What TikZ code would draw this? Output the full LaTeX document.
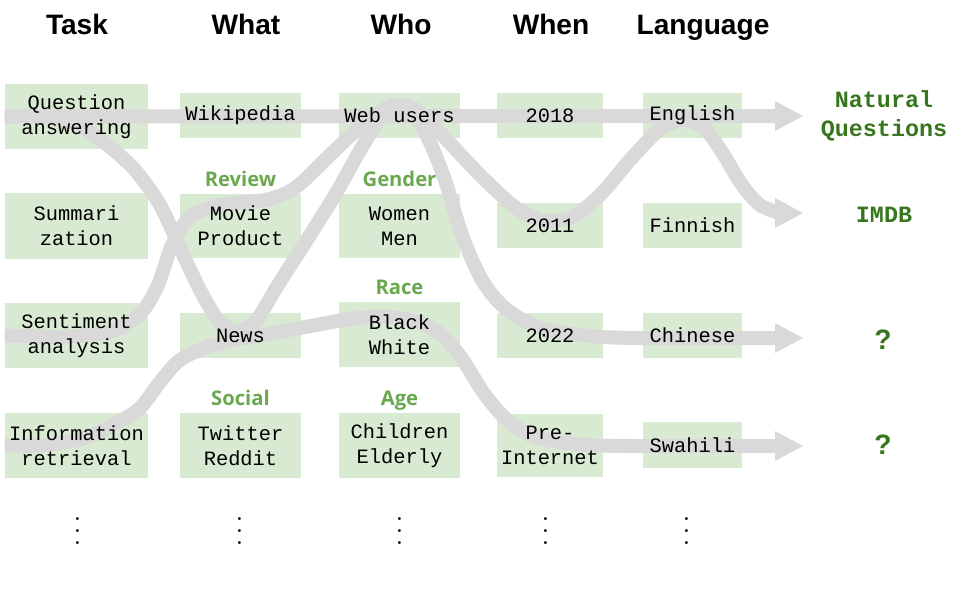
\documentclass[tikz,border=0pt]{standalone}
\usepackage{fontspec}
\setmonofont{Liberation Mono}
\newfontfamily\headfont{Liberation Sans}
\newfontfamily\catfont{Open Sans}
\usepackage{tikz}
\usetikzlibrary{arrows.meta}

\definecolor{boxgreen}{HTML}{D9EAD3}
\definecolor{flowgray}{HTML}{D9D9D9}
\definecolor{catgreen}{HTML}{6AA84F}
\definecolor{dsgreen}{HTML}{38761D}

\pgfdeclarelayer{fills}
\pgfdeclarelayer{flows}
\pgfsetlayers{fills,flows,main}

\newcommand{\colvdots}{\vbox{\baselineskip=6.8pt\lineskiplimit=0pt\hbox{.}\hbox{.}\hbox{.}}}

\tikzset{
  cell/.style={inner sep=0pt, align=center, font=\ttfamily\fontsize{11.6}{14.2}\selectfont},
  taskcell/.style={cell, minimum width=2.86cm, minimum height=1.30cm},
  midcell/.style={cell, minimum width=2.42cm, minimum height=0.90cm},
  tallcell/.style={cell, minimum width=2.42cm, minimum height=1.28cm},
  whencell/.style={cell, minimum width=2.12cm, minimum height=0.90cm},
  langcell/.style={cell, minimum width=1.98cm, minimum height=0.90cm},
  header/.style={anchor=base, font=\headfont\bfseries\fontsize{16}{18}\selectfont},
  category/.style={anchor=base, text=catgreen, font=\catfont\bfseries\fontsize{11.5}{13}\selectfont},
  dataset/.style={align=center, text=dsgreen, font=\ttfamily\bfseries\fontsize{13.3}{16.4}\selectfont},
  unknown/.style={text=dsgreen, font=\headfont\bfseries\fontsize{16}{18}\selectfont},
  flow/.style={draw=flowgray, line width=0.28cm, line join=round},
  flowarrow/.style={flow, -{Triangle[length=0.56cm, width=0.6cm, line width=0pt]}}
}

\begin{document}
\begin{tikzpicture}[x=0.02cm, y=-0.02cm]
  \useasboundingbox (0,0) rectangle (954,596);

  % headers
  \node[header] (hTask) at (77,34) {Task};
  \node[header] (hWhat) at (246,34) {What};
  \node[header] (hWho) at (401,34) {Who};
  \node[header] (hWhen) at (551,34) {When};
  \node[header] (hLang) at (703,34) {Language};

  % task column
  \node[taskcell] (qa) at (76.5,116.5) {Question\\answering};
  \node[taskcell] (su) at (76.5,226) {Summari\\zation};
  \node[taskcell] (sa) at (76.5,335.5) {Sentiment\\analysis};
  \node[taskcell] (ir) at (76.5,445.5) {Information\\retrieval};

  % what column
  \node[midcell] (wiki) at (240.5,115.5) {Wikipedia};
  \node[tallcell] (mov) at (240.5,226) {Movie\\Product};
  \node[midcell] (news) at (240.5,335.5) {News};
  \node[tallcell] (soc) at (240.5,445.5) {Twitter\\Reddit};

  % who column
  \node[midcell] (web) at (399.5,115.5) {Web users};
  \node[tallcell] (gen) at (399.5,226) {Women\\Men};
  \node[tallcell] (race) at (399.5,334.5) {Black\\White};
  \node[tallcell] (age) at (399.5,445.5) {Children\\Elderly};

  % when column
  \node[whencell] (y18) at (550,115.5) {2018};
  \node[whencell] (y11) at (550,225.5) {2011};
  \node[whencell] (y22) at (550,335.5) {2022};
  \node[whencell, minimum height=1.26cm] (pre) at (550,445.5) {Pre-\\Internet};

  % language column
  \node[langcell] (en) at (692.5,115.5) {English};
  \node[langcell] (fi) at (692.5,225.5) {Finnish};
  \node[langcell] (zh) at (692.5,335.5) {Chinese};
  \node[langcell] (sw) at (692.5,445) {Swahili};

  % category labels
  \node[category] (cReview) at (240.5,186) {Review};
  \node[category] (cGender) at (399.5,186) {Gender};
  \node[category] (cRace) at (399.5,294) {Race};
  \node[category] (cSocial) at (240.5,405) {Social};
  \node[category] (cAge) at (399.5,405) {Age};

  % resulting datasets
  \node[dataset] (nq) at (884,116) {Natural\\Questions};
  \node[dataset] (imdb) at (884,214.5) {IMDB};
  \node[unknown] (q1) at (883,340) {?};
  \node[unknown] (q2) at (883,445) {?};

  \coordinate (tipNQ) at (803,116);
  \coordinate (tipIMDB) at (803,213);
  \coordinate (tipZH) at (803,338);
  \coordinate (tipSW) at (803,446);

  \foreach \x/\n in {78/dTask,240/dWhat,400/dWho,546/dWhen,687/dLang}
    \node[font=\fontsize{20}{20}\selectfont] (\n) at (\x,531) {\colvdots};

  \begin{pgfonlayer}{fills}
    \foreach \n in {qa,su,sa,ir,wiki,mov,news,soc,web,gen,race,age,y18,y11,y22,pre,en,fi,zh,sw}
      \fill[boxgreen] (\n.south west) rectangle (\n.north east);
  \end{pgfonlayer}

  \begin{pgfonlayer}{flows}
    \draw[flowarrow] (qa.west) -- (tipNQ);
    \draw[flowarrow] (sa.west) -- plot[smooth] coordinates {(60,337) (110,332) (140,314) (158,285) (172,245) (190,217) (220,205) (265,200) (295,188) (330,155) (362,125) (385,109) (400,105) (418,111) (445,138) (480,175) (515,207) (545,221) (572,217) (600,195) (630,160) (658,131) (682,120) (703,127) (722,152) (742,185) (760,205) (780,213)} -- (tipIMDB);
    \draw[flowarrow] (qa.west) -- plot[smooth] coordinates {(40,116) (75,124) (105,143) (135,170) (160,205) (180,248) (200,290) (218,320) (235,332)}
      -- plot[smooth] coordinates {(235,332) (255,322) (278,285) (305,243) (335,195) (362,147) (383,115) (397,106) (412,113) (428,138) (445,180) (462,235) (482,280) (505,308) (540,328) (590,336) (640,338) (780,338)} -- (tipZH);
    \draw[flowarrow] (ir.west) -- plot[smooth] coordinates {(40,446) (85,438) (115,424) (140,408) (160,382) (180,360) (210,346) (250,337) (300,328) (350,319) (385,317) (418,322) (443,336) (463,360) (483,392) (505,418) (532,436) (575,444) (630,446) (780,446)} -- (tipSW);
  \end{pgfonlayer}
\end{tikzpicture}
\end{document}
